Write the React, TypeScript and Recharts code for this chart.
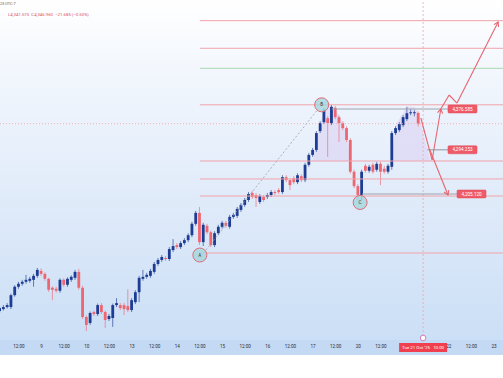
import React from "react"
import { ComposedChart, Bar, Area, XAxis, YAxis, ReferenceLine, ReferenceDot } from "recharts"

// XAUUSD 2h candles, 8 Oct 02:00 -> 21 Oct 08:00 (index = candle number)
const opens = [
  3969, 3973, 3977, 3977, 4001, 4018, 4024, 4028, 4030, 4032,
  4040, 4050, 4044, 4034, 4016, 4014, 4010, 4032, 4022, 4032,
  4036, 4048, 4016, 3957, 3945, 3967, 3963, 3981, 3967, 3953,
  3955, 3981, 3981, 3981, 3979, 3971, 3987, 4007, 4034, 4038,
  4040, 4048, 4064, 4072, 4076, 4074, 4092, 4102, 4098, 4106,
  4112, 4122, 4145, 4167, 4108, 4141, 4128, 4102, 4126, 4139,
  4147, 4139, 4159, 4161, 4173, 4183, 4193, 4207, 4203, 4189,
  4199, 4199, 4203, 4209, 4213, 4209, 4239, 4233, 4237, 4229,
  4241, 4233, 4264, 4284, 4294, 4332, 4350, 4358, 4348, 4379,
  4360, 4348, 4338, 4314, 4250, 4221, 4203, 4262, 4252, 4264,
  4254, 4266, 4256, 4250, 4260, 4328, 4334, 4344, 4356, 4368,
  4368, 4368.645,
]
const highs = [
  3979, 3981, 3985, 4004, 4021, 4028, 4032, 4042, 4038, 4044,
  4056, 4055, 4047, 4036, 4019, 4018, 4035, 4035, 4037, 4041,
  4052, 4054, 4020, 3960, 3968, 3970, 3984, 3985, 3970, 3963,
  3984, 3995, 3985, 3985, 4013, 3995, 4011, 4040, 4052, 4046,
  4054, 4068, 4076, 4082, 4080, 4098, 4114, 4106, 4110, 4116,
  4126, 4149, 4171, 4179, 4147, 4145, 4131, 4130, 4143, 4151,
  4151, 4163, 4167, 4179, 4187, 4197, 4209, 4211, 4207, 4205,
  4203, 4207, 4213, 4213, 4217, 4243, 4243, 4237, 4241, 4247,
  4245, 4268, 4288, 4298, 4332, 4352, 4378, 4362, 4385, 4383,
  4364, 4352, 4342, 4318, 4254, 4225, 4254, 4266, 4264, 4268,
  4270, 4270, 4262, 4266, 4332, 4342, 4350, 4364, 4381, 4376,
  4374, 4372,
]
const lows = [
  3965, 3970, 3974, 3973, 3998, 4014, 4020, 4024, 4026, 4018,
  4036, 4040, 4030, 4008, 3991, 4006, 4006, 4018, 4018, 4028,
  4032, 4012, 3953, 3929, 3941, 3959, 3959, 3963, 3935, 3949,
  3937, 3977, 3971, 3961, 3967, 3967, 3983, 3987, 4030, 4034,
  4036, 4044, 4060, 4068, 4070, 4070, 4088, 4094, 4094, 4102,
  4108, 4118, 4141, 4102, 4100, 4124, 4098, 4098, 4122, 4135,
  4137, 4135, 4155, 4157, 4169, 4179, 4189, 4195, 4179, 4185,
  4189, 4195, 4199, 4203, 4205, 4205, 4229, 4213, 4225, 4225,
  4229, 4229, 4260, 4280, 4290, 4328, 4346, 4280, 4344, 4356,
  4310, 4334, 4310, 4246, 4217, 4193, 4193, 4248, 4248, 4246,
  4250, 4223, 4246, 4246, 4254, 4324, 4330, 4340, 4352, 4364,
  4362, 4341.575,
]
const closes = [
  3975, 3977, 3981, 4001, 4018, 4024, 4028, 4032, 4034, 4040,
  4052, 4044, 4034, 4012, 4012, 4010, 4032, 4022, 4034, 4038,
  4048, 4016, 3957, 3941, 3965, 3963, 3981, 3967, 3951, 3959,
  3981, 3985, 3975, 3973, 3971, 3991, 4007, 4036, 4038, 4042,
  4050, 4064, 4072, 4078, 4074, 4094, 4100, 4098, 4106, 4112,
  4122, 4145, 4167, 4108, 4143, 4128, 4102, 4126, 4139, 4147,
  4141, 4159, 4163, 4175, 4183, 4193, 4205, 4199, 4197, 4201,
  4193, 4203, 4209, 4207, 4209, 4239, 4233, 4223, 4229, 4243,
  4233, 4264, 4284, 4294, 4328, 4348, 4374, 4348, 4381, 4360,
  4348, 4338, 4314, 4250, 4221, 4203, 4250, 4252, 4260, 4250,
  4266, 4250, 4250, 4262, 4328, 4338, 4346, 4360, 4368, 4370,
  4370, 4346.96,
]

const tickPos = [5, 11, 17, 23, 29, 35, 41, 47, 53, 59, 65, 71, 77, 83, 89, 95, 101, 119, 125, 131]
const tickLabels = ["12:00", "9", "12:00", "10", "12:00", "13", "12:00", "14", "12:00", "15", "12:00", "16", "12:00", "17", "12:00", "20", "12:00", "22", "12:00", "23"]

// horizontal levels, drawn from the 14 Oct 12:00 candle to the right edge
const redLevels = [4554.7, 4499, 4385, 4271.6, 4235.4, 4201, 4086]
const greenLevel = 4458.6
const lastPrice = 4346.96
const levelStart = 53

const priceTags = [
  { from: 88, x: 118.8, price: 4376.585, text: "4,376.585" },
  { from: 113.3, x: 118.8, price: 4294.253, text: "4,294.253" },
  { from: 96, x: 121.2, price: 4205.12, text: "4,205.120" },
]

const pivots = [
  { name: "A", x: 53, price: 4082 },
  { name: "B", x: 85.3, price: 4385 },
  { name: "C", x: 95.5, price: 4188 },
]

// drawings: [candle index, price]
const abLine = [[54.6, 4092], [84.1, 4374]]
const trendLine = [[95.7, 4189], [133.4, 4414.9]]
const bullPath1 = [[111.6, 4358.4], [114.6, 4273.7], [116.9, 4376.6]]
const bullPath2 = [[116.9, 4376.6], [119.1, 4404.8], [121.2, 4388.6], [132.1, 4552]]
const bearPath = [[114.0, 4293.9], [118.8, 4203.1]]

const headBase = 4271.6
const head1 = [
  [83, 4275], [84, 4318], [85, 4350], [86, 4372], [87, 4381], [88, 4381],
  [89, 4374], [90, 4362], [91, 4346], [92, 4322], [93, 4275],
]
const head2 = [
  [104, 4290], [105, 4340], [106, 4358], [107, 4370], [108, 4381], [109, 4381],
  [110, 4380], [111, 4362], [112, 4335], [113, 4305], [114, 4278],
]

const marker = { x: 112.2, date: "Tue 21 Oct '25", time: "10:00" }

const rows = opens.map((o, i) => ({
  i,
  o,
  h: highs[i],
  l: lows[i],
  c: closes[i],
  range: [lows[i], highs[i]],
}))

const headRows1 = head1.map(([i, hi]) => ({ i, band: [headBase, hi] }))
const headRows2 = head2.map(([i, hi]) => ({ i, band: [headBase, hi] }))

const BLUE = "#1d3c93"
const RED = "#ee6670"
const LINE_RED = "#f2a3aa"
const ARROW = "#e8656f"
const FONT = "Roboto, sans-serif"

const Candle = (props: any) => {
  const { x, y, width, height, payload } = props
  if (!payload) return null
  const top = Math.min(y, y + height)
  const h = Math.abs(height)
  const span = payload.h - payload.l || 1
  const k = h / span
  const up = payload.c >= payload.o
  const color = up ? BLUE : RED
  const bTop = top + (payload.h - Math.max(payload.o, payload.c)) * k
  const bBot = top + (payload.h - Math.min(payload.o, payload.c)) * k
  const cx = x + width / 2
  return (
    <g>
      <line x1={cx} x2={cx} y1={top} y2={top + h} stroke={color} strokeWidth={0.8} strokeOpacity={0.8} />
      <rect x={cx - 1.4} y={bTop} width={2.8} height={Math.max(bBot - bTop, 0.9)} fill={color} />
    </g>
  )
}

const arrowShape = (color: string) => (p: any) => {
  const { x1, y1, x2, y2 } = p
  const a = Math.atan2(y2 - y1, x2 - x1)
  const L = 5
  const w = 0.55
  const ax = x2 - L * Math.cos(a - w)
  const ay = y2 - L * Math.sin(a - w)
  const bx = x2 - L * Math.cos(a + w)
  const by = y2 - L * Math.sin(a + w)
  return (
    <g>
      <line x1={x1} y1={y1} x2={x2} y2={y2} stroke={color} strokeWidth={1.1} />
      <polyline points={`${ax},${ay} ${x2},${y2} ${bx},${by}`} fill="none" stroke={color} strokeWidth={1.1} />
    </g>
  )
}

const segs = (pts: number[][]) => pts.slice(1).map((p, k) => [pts[k], p])

const PriceTag = (text: string) => (p: any) => (
  <g>
    <rect x={p.cx} y={p.cy - 4} width={29} height={8} rx={1} fill="#ef5a68" stroke="#e04858" strokeWidth={0.5} />
    <text x={p.cx + 14.5} y={p.cy + 1.6} textAnchor="middle" fontSize={4.6} fill="#fff" fontFamily={FONT}>
      {text}
    </text>
  </g>
)

const PivotDot = (name: string) => (p: any) => (
  <g>
    <circle cx={p.cx} cy={p.cy} r={7} fill="#9fd6db" fillOpacity={0.75} stroke="#e06a76" strokeWidth={1} />
    <text x={p.cx} y={p.cy + 1.6} textAnchor="middle" fontSize={4.6} fill="#334" fontFamily={FONT}>
      {name}
    </text>
  </g>
)

const DateTag = (p: any) => (
  <g>
    <rect x={p.cx - 24} y={p.cy + 3} width={48} height={9} fill="#f0404f" />
    <text x={p.cx - 21} y={p.cy + 9.2} fontSize={4.4} fill="#fff" fontFamily={FONT}>
      {marker.date}
    </text>
    <text x={p.cx + 21} y={p.cy + 9.2} textAnchor="end" fontSize={4.4} fill="#fff" fontFamily={FONT}>
      {marker.time}
    </text>
    <circle cx={p.cx} cy={p.cy - 2} r={2.8} fill="#fff" stroke="#cf5fae" strokeWidth={0.8} />
  </g>
)

export default function App() {
  return (
    <div style={{ position: "absolute", left: 0, top: 0, width: 503, height: 378, background: "#fff", overflow: "hidden" }}>
      <div
        style={{
          position: "absolute",
          left: 0,
          top: 0,
          width: 503,
          height: 355,
          background:
            "linear-gradient(180deg, #ffffff 0px, #f1f6fd 80px, #dde9f9 220px, #cbdff6 340px, #c4daf4 340px, #c4daf4 355px)",
        }}
      />
      <div style={{ position: "absolute", left: 0, top: 0 }}>
        <ComposedChart width={503} height={355} data={rows} margin={{ top: 0, right: 0, bottom: 0, left: 0 }}>
          <XAxis
            type="number"
            dataKey="i"
            domain={[0, 133.39]}
            allowDataOverflow
            ticks={tickPos}
            interval={0}
            tickFormatter={(v: number) => tickLabels[tickPos.indexOf(v)] ?? ""}
            axisLine={false}
            tickLine={false}
            tickSize={0}
            tickMargin={5}
            height={15}
            tick={{ fontSize: 4.6, fill: "#2a2e39", fontFamily: FONT }}
          />
          <YAxis hide type="number" domain={[3910.6, 4596.4]} allowDataOverflow />

          <Area data={headRows1} dataKey="band" type="monotone" stroke="none" fill="#d8cff2" fillOpacity={0.55} dot={false} activeDot={false} isAnimationActive={false} />
          <Area data={headRows2} dataKey="band" type="monotone" stroke="none" fill="#d8cff2" fillOpacity={0.55} dot={false} activeDot={false} isAnimationActive={false} />

          {redLevels.map((p) => (
            <ReferenceLine key={p} segment={[{ x: levelStart, y: p }, { x: 133.39, y: p }]} stroke={LINE_RED} strokeWidth={1} />
          ))}
          <ReferenceLine segment={[{ x: levelStart, y: greenLevel }, { x: 133.39, y: greenLevel }]} stroke="#a6d8ae" strokeWidth={1} />
          <ReferenceLine y={lastPrice} stroke={LINE_RED} strokeDasharray="1 2" strokeWidth={0.8} />
          <ReferenceLine x={marker.x} stroke={LINE_RED} strokeDasharray="2 2" strokeWidth={0.8} />

          {priceTags.map((t) => (
            <ReferenceLine key={t.text} segment={[{ x: t.from, y: t.price }, { x: t.x, y: t.price }]} stroke="#9ea3ab" strokeWidth={1.2} />
          ))}

          <ReferenceLine
            segment={[{ x: abLine[0][0], y: abLine[0][1] }, { x: abLine[1][0], y: abLine[1][1] }]}
            stroke="#9aa0a8"
            strokeDasharray="2 2"
            strokeWidth={0.8}
          />
          <ReferenceLine
            segment={[{ x: trendLine[0][0], y: trendLine[0][1] }, { x: trendLine[1][0], y: trendLine[1][1] }]}
            stroke="#8d9be0"
            strokeWidth={1}
          />

          <Bar dataKey="range" barSize={3} shape={Candle} isAnimationActive={false} />

          {[bullPath1, bullPath2, bearPath].flatMap((path, n) =>
            segs(path).map(([a, b], k, all) => (
              <ReferenceLine
                key={`${n}-${k}`}
                segment={[{ x: a[0], y: a[1] }, { x: b[0], y: b[1] }]}
                stroke={ARROW}
                strokeWidth={1.1}
                shape={k === all.length - 1 ? arrowShape(ARROW) : undefined}
              />
            ))
          )}

          {pivots.map((p) => (
            <ReferenceDot key={p.name} x={p.x} y={p.price} r={7} shape={PivotDot(p.name)} />
          ))}
          {priceTags.map((t) => (
            <ReferenceDot key={t.text + "tag"} x={t.x} y={t.price} r={0} shape={PriceTag(t.text)} />
          ))}
          <ReferenceDot x={marker.x} y={3910.6} r={0} shape={DateTag} />
        </ComposedChart>
      </div>
      <div style={{ position: "absolute", left: 0, top: 1, fontSize: 3.8, color: "#555", fontFamily: FONT, whiteSpace: "pre" }}>
        25 UTC-7
      </div>
      <div style={{ position: "absolute", left: 8, top: 12, fontSize: 4.3, color: "#e0505e", fontFamily: FONT, whiteSpace: "pre" }}>
        {"L4,341.575  C4,346.960  −21.685 (−0.50%)"}
      </div>
    </div>
  )
}
